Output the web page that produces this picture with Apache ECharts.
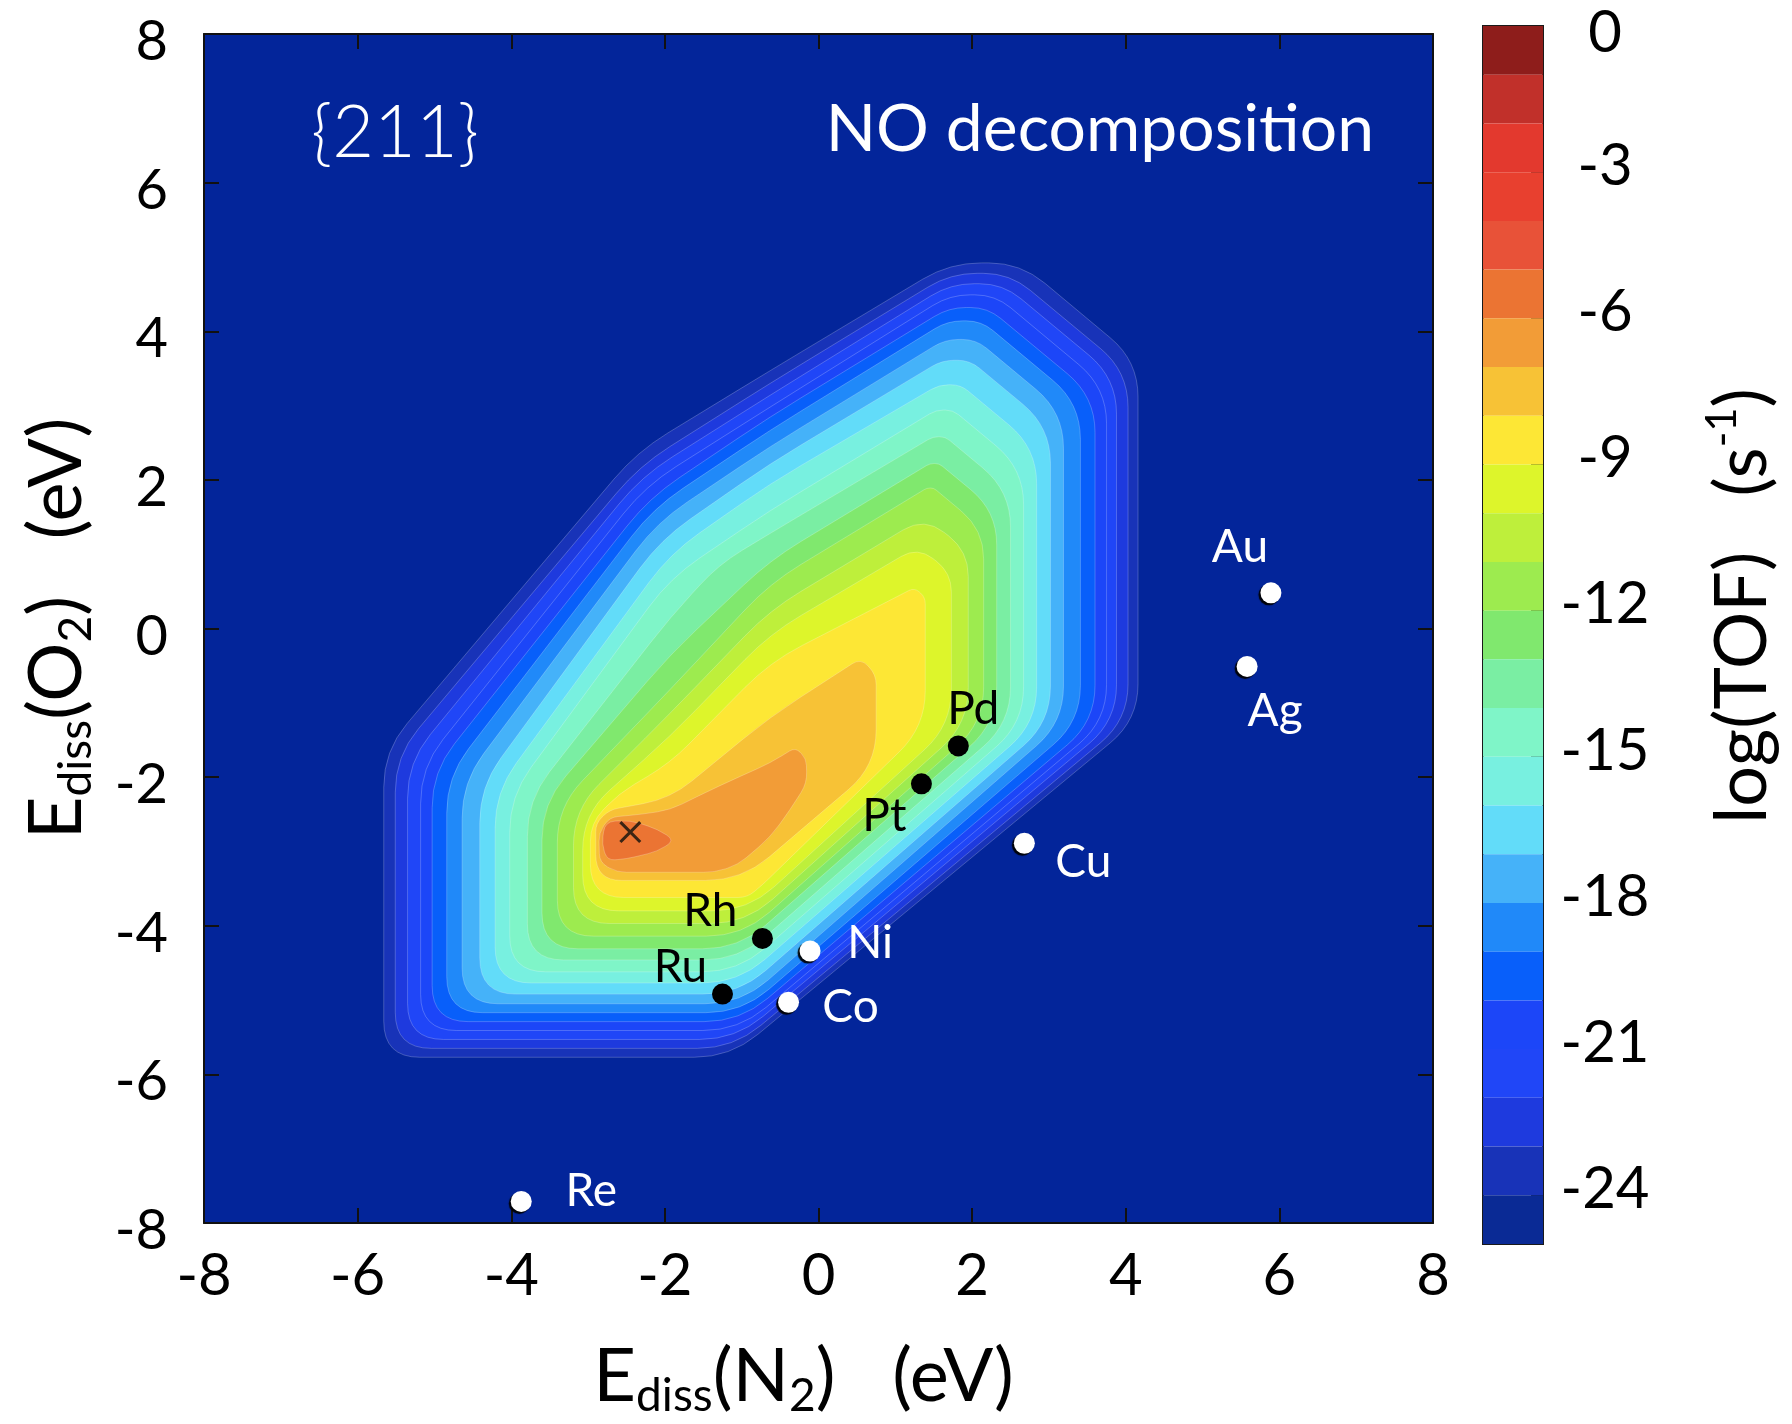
<!DOCTYPE html>
<html>
<head>
<meta charset="utf-8">
<title>NO decomposition {211}</title>
<script src="https://cdn.jsdelivr.net/npm/echarts@6.0.0/dist/echarts.min.js"></script>
<style>
html,body{margin:0;padding:0;background:#ffffff;}
#chart{width:1792px;height:1424px;}
</style>
</head>
<body>
<div id="chart"></div>
<script>
// ---------------- data ----------------
const xTicks = [-8, -6, -4, -2, 0, 2, 4, 6, 8];
const yTicks = [-8, -6, -4, -2, 0, 2, 4, 6, 8];
const cbTicks = [0, -3, -6, -9, -12, -15, -18, -21, -24];
const cbBandTops = [0,-1,-2,-3,-4,-5,-6,-7,-8,-9,-10,-11,-12,-13,-14,-15,-16,-17,-18,-19,-20,-21,-22,-23,-24];
const cbBandColors = ['#8E1D1B','#C1302A','#E3392E','#E8402F','#E85238','#EB7433','#F29C37','#F7C236','#FDE735',
  '#DDF52B','#BEEF3B','#9DEB4F','#80E86E','#7AEEA3','#7FF5C8','#78F0E0','#62DCF9','#45B2F9','#2089F9',
  '#085FFA','#1C46F8','#2046F7','#1E3ADE','#1833B8','#0A2A95'];

// contour levels of log(TOF) and the boundary of each level, [Ediss(N2), Ediss(O2)] in eV
const contourLevels = [-24,-23,-22,-21,-20,-19,-18,-17,-16,-15,-14,-13,-12,-11,-10,-9,-8,-7,-6];
const c24 = [[1.71,4.92],[2.63,4.92],[4.16,3.60],[4.16,-1.23],[-1.15,-5.77],[-5.66,-5.77],[-5.66,-1.65],[-2.36,2.38],[-0.63,3.47]];
const c23 = [[1.72,4.78],[2.49,4.78],[4.03,3.46],[4.03,-1.23],[-1.11,-5.65],[-5.51,-5.65],[-5.51,-1.72],[-2.33,2.19],[-0.63,3.30]];
const c22 = [[1.72,4.64],[2.40,4.64],[3.88,3.37],[3.88,-1.24],[-1.08,-5.53],[-5.35,-5.53],[-5.35,-1.80],[-2.30,2.05],[-0.63,3.14]];
const c21 = [[1.71,4.49],[2.30,4.49],[3.75,3.24],[3.75,-1.24],[-1.04,-5.41],[-5.18,-5.41],[-5.18,-1.87],[-2.25,1.92],[-0.63,2.98]];
const c20 = [[1.70,4.32],[2.20,4.32],[3.60,3.12],[3.60,-1.25],[-1.02,-5.29],[-5.03,-5.29],[-5.03,-1.93],[-2.20,1.76],[-0.63,2.85]];
const c19 = [[1.68,4.14],[2.12,4.14],[3.41,3.03],[3.41,-1.25],[-1.00,-5.17],[-4.84,-5.17],[-4.84,-2.00],[-2.15,1.62],[-0.63,2.67]];
const c18 = [[1.65,3.89],[2.05,3.89],[3.19,2.91],[3.19,-1.26],[-1.01,-5.05],[-4.64,-5.05],[-4.64,-2.07],[-2.10,1.43],[-0.63,2.45]];
const c17 = [[1.61,3.61],[1.97,3.61],[3.02,2.71],[3.02,-1.26],[-1.04,-4.92],[-4.41,-4.92],[-4.41,-2.13],[-2.05,1.20],[-0.63,2.22]];
const c16 = [[1.57,3.28],[1.85,3.28],[2.84,2.43],[2.84,-1.27],[-1.05,-4.77],[-4.21,-4.77],[-4.21,-2.20],[-1.93,1.01],[-0.63,1.95]];
const c15 = [[1.53,2.94],[1.75,2.94],[2.67,2.15],[2.67,-1.27],[-1.05,-4.62],[-4.02,-4.62],[-4.02,-2.26],[-1.93,0.68],[-0.63,1.59]];
const c14 = [[1.49,2.58],[1.65,2.58],[2.50,1.85],[2.50,-1.27],[-1.04,-4.46],[-3.79,-4.46],[-3.79,-2.31],[-1.93,0.15],[-1.30,0.86],[-0.63,1.28]];
const c13 = [[1.45,2.22],[1.57,2.22],[2.32,1.58],[2.32,-1.27],[-1.04,-4.31],[-3.60,-4.31],[-3.60,-2.36],[-1.93,-0.35],[-0.63,0.92]];
const c12 = [[1.41,1.89],[1.50,1.89],[2.15,1.33],[2.15,-1.27],[-0.99,-4.14],[-3.40,-4.14],[-3.40,-2.40],[-1.93,-0.82],[-0.63,0.61]];
const c11 = [[1.38,1.50],[1.95,1.04],[1.95,-1.28],[-0.95,-3.97],[-3.19,-3.97],[-3.19,-2.44],[-1.93,-1.14],[-0.63,0.25]];
const c10 = [[1.29,1.10],[1.73,0.75],[1.73,-1.30],[-0.92,-3.80],[-3.07,-3.80],[-3.07,-2.50],[-1.93,-1.45],[-0.63,-0.07]];
const c9  = [[1.25,0.55],[1.39,0.42],[1.39,-1.32],[-0.73,-3.45],[-0.93,-3.62],[-2.97,-3.62],[-2.97,-2.62],[-2.60,-2.22],[-1.93,-1.81],[-0.63,-0.45]];
const c8  = [[0.55,-0.40],[0.75,-0.62],[0.75,-1.85],[-1.00,-3.39],[-2.90,-3.39],[-2.90,-2.62],[-2.72,-2.44],[-1.93,-2.29],[-0.63,-1.19]];
const c7  = [[-0.30,-1.60],[-0.16,-1.75],[-0.15,-2.08],[-0.37,-2.44],[-0.63,-2.81],[-1.05,-3.18],[-1.35,-3.28],[-2.62,-3.28],[-2.85,-3.15],[-2.86,-2.75],[-2.72,-2.54],[-2.30,-2.50],[-1.93,-2.44],[-1.30,-2.12],[-0.63,-1.81]];
const c6  = [[-2.78,-2.60],[-2.45,-2.58],[-2.10,-2.70],[-1.87,-2.85],[-2.10,-3.00],[-2.50,-3.10],[-2.75,-3.12],[-2.82,-2.90]];
const contours = [c24,c23,c22,c21,c20,c19,c18,c17,c16,c15,c14,c13,c12,c11,c10,c9,c8,c7,c6];

// metals
const blackNames = ['Pd', 'Pt', 'Rh', 'Ru'];
const blackX = [1.82, 1.34, -0.73, -1.25];
const blackY = [-1.58, -2.09, -4.17, -4.92];
const whiteNames = ['Au', 'Ag', 'Cu', 'Ni', 'Co', 'Re'];
const whiteX = [5.89, 5.58, 2.68, -0.11, -0.39, -3.87];
const whiteY = [0.48, -0.51, -2.89, -4.34, -5.03, -7.71];
const optimumX = [-2.45];
const optimumY = [-2.74];

// ---------------- styling ----------------
const FONT = 'Lato, "Open Sans", "DejaVu Sans", sans-serif';
const NAVY = '#03259A';
const labelOffset = {Au:[-31,-46], Ag:[28,45], Pd:[15,-37], Pt:[-37,32], Cu:[59,19],
  Rh:[-52,-27], Ni:[60,-8], Ru:[-42,-27], Co:[62,5], Re:[70,-10]};
const levelColors = contourLevels.map(L => cbBandColors[cbBandTops.indexOf(L + 1)]);

function roundedPath(pts, R) {
  const n = pts.length;
  let d = '';
  for (let i = 0; i < n; i++) {
    const p0 = pts[(i - 1 + n) % n], p1 = pts[i], p2 = pts[(i + 1) % n];
    const v1x = p0[0] - p1[0], v1y = p0[1] - p1[1], l1 = Math.hypot(v1x, v1y) || 1;
    const v2x = p2[0] - p1[0], v2y = p2[1] - p1[1], l2 = Math.hypot(v2x, v2y) || 1;
    const r = Math.min(R, l1 * 0.45, l2 * 0.45);
    const ax = p1[0] + v1x / l1 * r, ay = p1[1] + v1y / l1 * r;
    const bx = p1[0] + v2x / l2 * r, by = p1[1] + v2y / l2 * r;
    d += (i === 0 ? 'M' : 'L') + ax.toFixed(2) + ',' + ay.toFixed(2) +
         'Q' + p1[0].toFixed(2) + ',' + p1[1].toFixed(2) + ',' + bx.toFixed(2) + ',' + by.toFixed(2);
  }
  return d + 'Z';
}

const axisLineStyle = {color: '#111', width: 2};
const tickStyle = {inside: true, length: 15, lineStyle: {color: '#111', width: 2}};

function pointData(names, xs, ys) {
  return names.map((nm, i) => ({
    name: nm,
    value: [xs[i], ys[i]],
    label: {offset: labelOffset[nm]}
  }));
}

const chart = echarts.init(document.getElementById('chart'), null, {renderer: 'canvas', width: 1792, height: 1424});

const option = {
  animation: false,
  backgroundColor: '#ffffff',
  textStyle: {fontFamily: FONT},
  grid: [
    {left: 204, top: 34, width: 1229, height: 1189, show: true, backgroundColor: NAVY, borderWidth: 0},
    {left: 1483, top: 26, width: 60, height: 1218, show: true, backgroundColor: 'transparent', borderColor: '#1a1a1a', borderWidth: 2}
  ],
  xAxis: [
    {
      type: 'value', gridIndex: 0, position: 'bottom', min: xTicks[0], max: xTicks[xTicks.length - 1], interval: 2,
      axisLine: {show: true, onZero: false, lineStyle: axisLineStyle},
      axisTick: tickStyle,
      axisLabel: {fontSize: 58, color: '#000', fontFamily: FONT, margin: 24},
      splitLine: {show: false},
      name: '{e|E}{s|diss}{e|(N}{s|2}{e|)   (eV)}',
      nameLocation: 'middle', nameGap: 112,
      nameTextStyle: {padding: [0, 30, 0, 0], rich: {
        e: {fontSize: 74, fontFamily: FONT, color: '#000', lineHeight: 84},
        s: {fontSize: 46, fontFamily: FONT, color: '#000', lineHeight: 44, verticalAlign: 'bottom'}
      }}
    },
    {
      type: 'value', gridIndex: 0, position: 'top', min: -8, max: 8, interval: 2,
      axisLine: {show: true, onZero: false, lineStyle: axisLineStyle},
      axisTick: tickStyle, axisLabel: {show: false}, splitLine: {show: false}
    },
    {type: 'value', gridIndex: 1, min: 0, max: 1, show: false}
  ],
  yAxis: [
    {
      type: 'value', gridIndex: 0, position: 'left', min: yTicks[0], max: yTicks[yTicks.length - 1], interval: 2,
      axisLine: {show: true, onZero: false, lineStyle: axisLineStyle},
      axisTick: tickStyle,
      axisLabel: {margin: 36, formatter: v => '{a|' + v + '}',
        rich: {a: {fontSize: 56, color: '#000', fontFamily: FONT, padding: [16, 0, 0, 0]}}},
      splitLine: {show: false},
      name: '{e|E}{s|diss}{e|(O}{s|2}{e|)   (eV)}',
      nameLocation: 'middle', nameGap: 105, nameRotate: 90,
      nameTextStyle: {rich: {
        e: {fontSize: 74, fontFamily: FONT, color: '#000', lineHeight: 84},
        s: {fontSize: 46, fontFamily: FONT, color: '#000', lineHeight: 44, verticalAlign: 'bottom'}
      }}
    },
    {
      type: 'value', gridIndex: 0, position: 'right', min: -8, max: 8, interval: 2,
      axisLine: {show: true, onZero: false, lineStyle: axisLineStyle},
      axisTick: tickStyle, axisLabel: {show: false}, splitLine: {show: false}
    },
    {
      type: 'value', gridIndex: 1, position: 'right', min: -25, max: 0,
      axisLine: {show: true, onZero: false, lineStyle: {color: '#1a1a1a', width: 2}},
      axisTick: {inside: true, length: 12, lineStyle: {color: '#222', width: 2}, customValues: cbTicks.slice(1)},
      axisLabel: {customValues: cbTicks, margin: 62, align: 'center',
        formatter: v => (v === 0 ? '{z|0}' : '{b|' + v + '}'),
        rich: {
          b: {fontSize: 58, color: '#000', fontFamily: FONT, padding: [0, 0, 12, 0]},
          z: {fontSize: 58, color: '#000', fontFamily: FONT, padding: [14, 0, 0, 0]}
        }},
      splitLine: {show: false}
    }
  ],
  graphic: [
    {type: 'text', x: 395, y: 134, z: 100,
      style: {text: '{211}', fill: '#ffffff', font: '300 72px ' + FONT, align: 'center', verticalAlign: 'middle'}},
    {type: 'text', x: 1374, y: 130, z: 100,
      style: {text: 'NO decomposition', fill: '#ffffff', font: '400 66px ' + FONT, align: 'right', verticalAlign: 'middle'}},
    {type: 'text', x: 1743, y: 606, rotation: Math.PI / 2, z: 100,
      style: {
        text: '{e|log(TOF)   (s}{p|-1}{e|)}', align: 'center', verticalAlign: 'middle',
        rich: {
          e: {fontSize: 72, fontFamily: FONT, fill: '#000', lineHeight: 84},
          p: {fontSize: 42, fontFamily: FONT, fill: '#000', lineHeight: 50, verticalAlign: 'top'}
        }
      }}
  ],
  series: [
    {
      type: 'custom', name: 'log(TOF)', xAxisIndex: 0, yAxisIndex: 0, z: 1, silent: true,
      data: contourLevels.map((L, i) => [i, L]),
      encode: {x: -1, y: -1},
      renderItem: function (params, api) {
        const i = params.dataIndex;
        const pts = contours[i].map(p => api.coord(p));
        return {
          type: 'path',
          shape: {pathData: roundedPath(pts, 36)},
          style: {fill: levelColors[i], stroke: 'rgba(255,255,255,0.22)', lineWidth: 1}
        };
      }
    },
    {
      type: 'custom', name: 'colorbar', xAxisIndex: 2, yAxisIndex: 2, z: 1, silent: true,
      data: cbBandTops.map((t, i) => [i, t]),
      encode: {x: -1, y: -1},
      renderItem: function (params, api) {
        const i = params.dataIndex;
        const top = cbBandTops[i];
        const p1 = api.coord([0, top]);
        const p2 = api.coord([1, top - 1]);
        return {
          type: 'rect',
          shape: {x: p1[0], y: p1[1], width: p2[0] - p1[0], height: p2[1] - p1[1]},
          style: {fill: cbBandColors[i]}
        };
      }
    },
    {
      type: 'scatter', name: 'black', xAxisIndex: 0, yAxisIndex: 0, z: 5,
      symbol: 'circle', symbolSize: 21,
      itemStyle: {color: '#000000', opacity: 1},
      label: {show: true, position: 'inside', formatter: '{b}', color: '#000000', fontSize: 46, fontFamily: FONT, opacity: 1},
      data: pointData(blackNames, blackX, blackY)
    },
    {
      type: 'scatter', name: 'white', xAxisIndex: 0, yAxisIndex: 0, z: 5,
      symbol: 'circle', symbolSize: 21,
      itemStyle: {color: '#ffffff', opacity: 1, borderWidth: 0,
        shadowColor: 'rgba(0,0,0,0.95)', shadowBlur: 1, shadowOffsetX: -2, shadowOffsetY: 2},
      label: {show: true, position: 'inside', formatter: '{b}', color: '#ffffff', fontSize: 46, fontFamily: FONT, opacity: 1},
      data: pointData(whiteNames, whiteX, whiteY)
    },
    {
      type: 'scatter', name: 'optimum', xAxisIndex: 0, yAxisIndex: 0, z: 6,
      symbol: 'path://M0,1L1,0L10,9L9,10Z M9,0L10,1L1,10L0,9Z', symbolSize: 22,
      itemStyle: {color: '#3b2414', opacity: 1},
      data: optimumX.map((x, i) => [x, optimumY[i]])
    }
  ]
};
chart.setOption(option);
</script>
</body>
</html>
